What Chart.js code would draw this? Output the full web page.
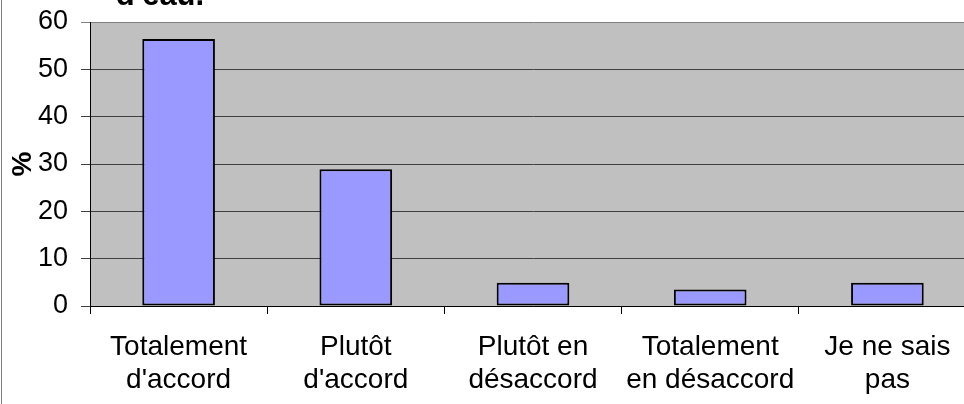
<!DOCTYPE html>
<html>
<head>
<meta charset="utf-8">
<script src="https://cdn.jsdelivr.net/npm/chart.js@4"></script>
<style>
html,body{margin:0;padding:0;background:#fff;overflow:hidden;width:964px;height:404px;}
#wrap{width:976px;height:404px;position:relative;}
</style>
</head>
<body>
<div id="wrap"><canvas id="c" width="976" height="404"></canvas></div>
<script>
const categories = [
  ["Totalement", "d'accord"],
  ["Plutôt", "d'accord"],
  ["Plutôt en", "désaccord"],
  ["Totalement", "en désaccord"],
  ["Je ne sais", "pas"]
];
const values = [56.4, 28.9, 4.9, 3.5, 4.9];
const yTicks = [0, 10, 20, 30, 40, 50, 60];
const titleText = "d'eau.";
const yTitle = "%";

const FONT = "'Liberation Sans', Arial, sans-serif";

const bgPlugin = {
  id: 'bg',
  beforeDraw(chart) {
    const {ctx, chartArea: a} = chart;
    ctx.save();
    ctx.fillStyle = '#C0C0C0';
    ctx.fillRect(a.left, a.top, a.right - a.left, a.bottom - a.top);
    ctx.restore();
  },
  afterDraw(chart) {
    const {ctx} = chart;
    ctx.save();
    ctx.strokeStyle = '#808080';
    ctx.lineWidth = 1;
    ctx.beginPath();
    ctx.moveTo(1.5, 0);
    ctx.lineTo(1.5, 404);
    ctx.stroke();
    ctx.fillStyle = '#000';
    ctx.font = "bold 31px " + FONT;
    ctx.textAlign = 'center';
    ctx.textBaseline = 'alphabetic';
    ctx.fillText(titleText, 160, 5);
    ctx.restore();
  }
};

new Chart(document.getElementById('c'), {
  type: 'bar',
  data: {
    labels: categories,
    datasets: [{
      data: values,
      backgroundColor: '#9999FF',
      borderColor: '#000000',
      borderWidth: 2,
      borderSkipped: false,
      categoryPercentage: 1,
      barPercentage: 0.41
    }]
  },
  options: {
    responsive: false,
    animation: false,
    devicePixelRatio: 1,
    layout: {padding: {top: 22, left: 0, right: 0, bottom: 0}},
    plugins: {legend: {display: false}, tooltip: {enabled: false}, title: {display: false}},
    scales: {
      x: {
        type: 'category',
        offset: true,
        grid: {offset: true, drawOnChartArea: false, drawTicks: true, tickLength: 8, color: '#000'},
        border: {display: true, color: '#000', width: 1},
        ticks: {color: '#000', font: {family: FONT, size: 28, lineHeight: 1.2}, padding: 16, maxRotation: 0, autoSkip: false},
        afterFit(scale) { scale.height = 98; scale.paddingLeft = 0; scale.paddingRight = 0; }
      },
      y: {
        min: 0, max: 60,
        afterBuildTicks(scale) { scale.ticks = yTicks.map(v => ({value: v})); },
        grid: {
          color: (c) => (c.tick && c.tick.value === 60) ? '#808080' : '#404040',
          drawTicks: true, tickLength: 9, lineWidth: 1
        },
        border: {display: true, color: '#000', width: 1},
        ticks: {color: '#000', font: {family: FONT, size: 27}, padding: 13, stepSize: 10},
        title: {display: true, text: yTitle, color: '#000', font: {family: FONT, size: 28, weight: 'bold', lineHeight: 1.2}, padding: {top: 6, bottom: 0}},
        afterFit(scale) { scale.width = 90; scale.paddingTop = 0; scale.paddingBottom = 0; }
      }
    }
  },
  plugins: [bgPlugin]
});
</script>
</body>
</html>
